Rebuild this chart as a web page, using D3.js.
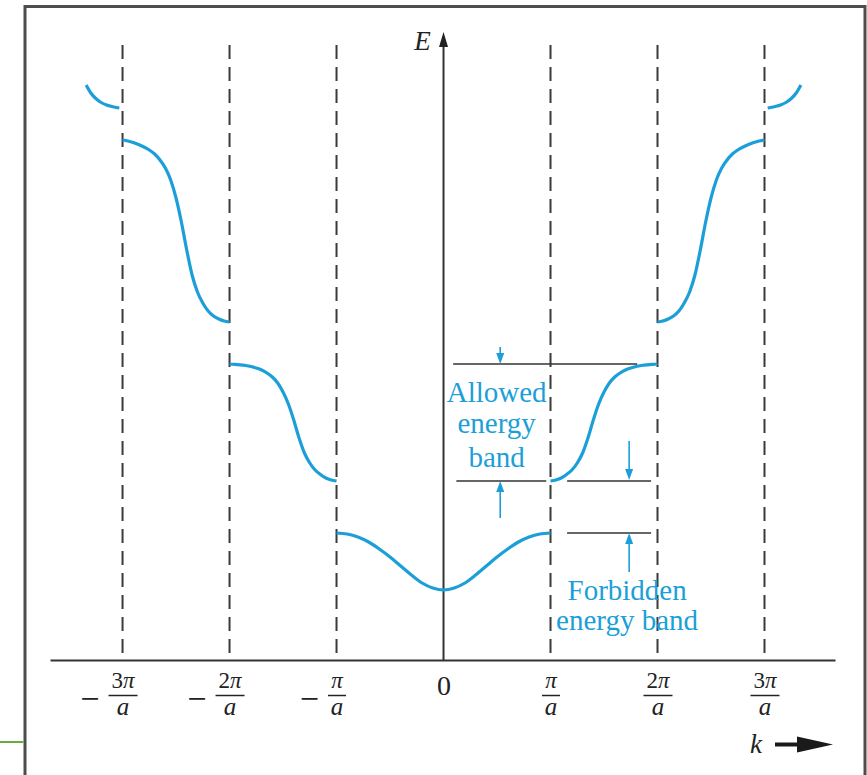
<!DOCTYPE html>
<html>
<head>
<meta charset="utf-8">
<script src="https://cdn.jsdelivr.net/npm/d3@7"></script>
<style>
  html, body { margin: 0; padding: 0; background: #fff; }
  svg { display: block; }
</style>
</head>
<body>
<svg id="chart" width="867" height="775"></svg>
<script>
// ---------- DATA (k in units of pi/a, E in arbitrary units) ----------
const kTicks = [-3, -2, -1, 0, 1, 2, 3];
const tickSigns = ["\u2212", "\u2212", "\u2212", "", "", "", ""];
const tickNumerators = ["3\u03c0", "2\u03c0", "\u03c0", "0", "\u03c0", "2\u03c0", "3\u03c0"];
const tickDenominators = ["a", "a", "a", "", "a", "a", "a"];
const zoneBoundaries = [-3, -2, -1, 1, 2, 3];

// band 1 : -pi/a .. pi/a
const band1 = [[-1, 127], [-0.9, 126], [-0.8, 123], [-0.7, 118], [-0.6, 111], [-0.5, 103],
  [-0.4, 94], [-0.3, 85], [-0.2, 77], [-0.1, 72], [0, 70], [0.1, 72], [0.2, 77], [0.3, 85],
  [0.4, 94], [0.5, 103], [0.6, 111], [0.7, 118], [0.8, 123], [0.9, 126], [1, 127]];
// band 2 : pi/a .. 2pi/a
const band2Right = [[1.00, 179], [1.05, 180], [1.10, 182], [1.15, 185.5], [1.20, 190], [1.25, 197],
  [1.30, 207], [1.35, 222], [1.40, 240], [1.45, 256], [1.50, 268], [1.55, 277], [1.60, 283],
  [1.65, 287], [1.70, 290], [1.75, 292], [1.80, 293.5], [1.85, 294.5], [1.90, 295.2], [1.95, 295.7], [2.00, 296]];
const band2Left = [[-2.00, 296], [-1.95, 295.7], [-1.90, 295.2], [-1.85, 294.5], [-1.80, 293.5],
  [-1.75, 292], [-1.70, 290], [-1.65, 287], [-1.60, 283], [-1.55, 277], [-1.50, 268], [-1.45, 256],
  [-1.40, 240], [-1.35, 222], [-1.30, 207], [-1.25, 197], [-1.20, 190], [-1.15, 185.5], [-1.10, 182],
  [-1.05, 180], [-1.00, 179]];
// band 3 : 2pi/a .. 3pi/a
const band3Right = [[2.00, 338], [2.05, 339], [2.10, 341], [2.15, 344], [2.20, 349], [2.25, 357],
  [2.30, 368], [2.35, 385], [2.40, 410], [2.45, 438], [2.50, 462], [2.55, 480], [2.60, 492],
  [2.65, 500], [2.70, 506], [2.75, 510], [2.80, 513], [2.85, 515.5], [2.90, 517.5], [2.95, 519], [3.00, 520]];
const band3Left = [[-3.00, 520], [-2.95, 519], [-2.90, 517.5], [-2.85, 515.5], [-2.80, 513],
  [-2.75, 510], [-2.70, 506], [-2.65, 500], [-2.60, 492], [-2.55, 480], [-2.50, 462], [-2.45, 438],
  [-2.40, 410], [-2.35, 385], [-2.30, 368], [-2.25, 357], [-2.20, 349], [-2.15, 344], [-2.10, 341],
  [-2.05, 339], [-2.00, 338]];
// band 4 : beyond 3pi/a (partial)
const band4Right = [[3.03, 552], [3.1, 553.5], [3.15, 555], [3.2, 557.5], [3.25, 561.5], [3.3, 567.5], [3.34, 575]];
const band4Left = [[-3.34, 575], [-3.3, 567.5], [-3.25, 561.5], [-3.2, 557.5], [-3.15, 555], [-3.1, 553.5], [-3.03, 552]];

const bands = [band4Left, band3Left, band2Left, band1, band2Right, band3Right, band4Right];

// annotation data (k, E)
const refLines = [
  { k0: 0.09, k1: 1.81, E: 296 },
  { k0: 0.12, k1: 0.96, E: 179 },
  { k0: 1.155, k1: 1.94, E: 179 },
  { k0: 1.155, k1: 1.94, E: 127 }
];
const bandArrows = [
  { k: 0.53, from: 313, to: 296 },
  { k: 0.53, from: 142, to: 179 },
  { k: 1.735, from: 219, to: 180 },
  { k: 1.735, from: 88, to: 127 }
];
const allowedLabel = { k: 0.497, lines: ["Allowed", "energy", "band"], E: [258.5, 227, 193.5] };
const forbiddenLabel = { k: 1.716, lines: ["Forbidden", "energy band"], E: [60, 30] };

// ---------- STYLES ----------
const BLUE = "#1c9fd8";
const INK = "#333333";
const SERIF = "'Liberation Serif', 'Times New Roman', 'DejaVu Serif', serif";

const svg = d3.select("#chart");

// frame
svg.append("rect")
  .attr("x", 25).attr("y", 6.5).attr("width", 840).attr("height", 820)
  .attr("fill", "none").attr("stroke", "#4d4d4d").attr("stroke-width", 3);
svg.append("line").attr("x1", 0).attr("x2", 23.5).attr("y1", 742).attr("y2", 742)
  .attr("stroke", "#6aab3c").attr("stroke-width", 2);

// scales
const x = d3.scaleLinear().domain([-3.678, 3.659]).range([50, 835]);
const y = d3.scaleLinear().domain([0, 628]).range([660, 32]);

// dashed zone boundaries
svg.append("g").selectAll("line").data(zoneBoundaries).join("line")
  .attr("x1", d => x(d)).attr("x2", d => x(d))
  .attr("y1", y(615)).attr("y2", y(0))
  .attr("stroke", "#3a3a3a").attr("stroke-width", 2)
  .attr("stroke-dasharray", "14,8");

// x axis
const xAxis = d3.axisBottom(x).tickValues(kTicks).tickSize(0).tickSizeOuter(0).tickFormat("");
const gx = svg.append("g").attr("transform", `translate(0,${y(0)})`).call(xAxis);
gx.select(".domain").attr("stroke", INK).attr("stroke-width", 2);

gx.selectAll(".tick").each(function (d, i) {
  const g = d3.select(this);
  const num = tickNumerators[i], den = tickDenominators[i], sign = tickSigns[i];
  if (!den) {
    g.append("text").attr("x", 0).attr("y", 35).attr("text-anchor", "middle")
      .attr("font-family", SERIF).attr("font-size", 28).attr("fill", "#222").text(num);
    return;
  }
  const half = num.length > 1 ? 14.5 : 9;
  const t = g.append("text").attr("x", 0).attr("y", 28).attr("text-anchor", "middle")
    .attr("font-family", SERIF).attr("font-size", 23).attr("fill", "#222");
  const digits = num.replace("\u03c0", "");
  if (digits) t.append("tspan").text(digits);
  t.append("tspan").attr("font-style", "italic").text("\u03c0");
  g.append("line").attr("x1", -half).attr("x2", half).attr("y1", 35.5).attr("y2", 35.5)
    .attr("stroke", "#222").attr("stroke-width", 1.5);
  g.append("text").attr("x", 0).attr("y", 55).attr("text-anchor", "middle")
    .attr("font-family", SERIF).attr("font-style", "italic").attr("font-size", 25)
    .attr("fill", "#222").text(den);
  if (sign) {
    g.append("text").attr("x", -half - 9).attr("y", 50).attr("text-anchor", "end")
      .attr("font-family", SERIF).attr("font-size", 34).attr("fill", "#222").text(sign);
  }
});

// E axis with arrow
svg.append("line").attr("x1", x(0)).attr("x2", x(0)).attr("y1", y(0)).attr("y2", y(615))
  .attr("stroke", INK).attr("stroke-width", 2);
svg.append("path")
  .attr("d", `M${x(0)},${y(628)} L${x(0) - 4.5},${y(613)} L${x(0) + 4.5},${y(613)} Z`)
  .attr("fill", "#222");
svg.append("text").attr("x", x(0) - 21).attr("y", y(610)).attr("text-anchor", "middle")
  .attr("font-family", SERIF).attr("font-style", "italic").attr("font-size", 27)
  .attr("fill", "#222").text("E");

// k label with arrow
svg.append("text").attr("x", 756).attr("y", 753).attr("text-anchor", "middle")
  .attr("font-family", SERIF).attr("font-style", "italic").attr("font-size", 27)
  .attr("fill", "#222").text("k");
svg.append("line").attr("x1", 775).attr("x2", 800).attr("y1", 744.5).attr("y2", 744.5)
  .attr("stroke", "#1a1a1a").attr("stroke-width", 4);
svg.append("path").attr("d", "M797,736.5 L833,744.5 L797,752.5 Z").attr("fill", "#1a1a1a");

// bands
const line = d3.line().x(d => x(d[0])).y(d => y(d[1])).curve(d3.curveMonotoneX);
svg.append("g").selectAll("path").data(bands).join("path")
  .attr("d", line).attr("fill", "none").attr("stroke", BLUE)
  .attr("stroke-width", 3.2).attr("stroke-linecap", "butt");

// reference lines
svg.append("g").selectAll("line").data(refLines).join("line")
  .attr("x1", d => x(d.k0)).attr("x2", d => x(d.k1))
  .attr("y1", d => y(d.E)).attr("y2", d => y(d.E))
  .attr("stroke", INK).attr("stroke-width", 1.6);

// blue arrows
const ga = svg.append("g");
bandArrows.forEach(a => {
  const xa = x(a.k), y0 = y(a.from), y1 = y(a.to);
  const dir = y1 > y0 ? 1 : -1;
  const headLen = 11, headW = 4;
  ga.append("line").attr("x1", xa).attr("x2", xa).attr("y1", y0).attr("y2", y1 - dir * headLen)
    .attr("stroke", BLUE).attr("stroke-width", 1.6);
  ga.append("path")
    .attr("d", `M${xa},${y1} L${xa - headW},${y1 - dir * headLen} L${xa + headW},${y1 - dir * headLen} Z`)
    .attr("fill", BLUE);
});

// labels
[allowedLabel, forbiddenLabel].forEach(lab => {
  lab.lines.forEach((s, i) => {
    svg.append("text").attr("x", x(lab.k)).attr("y", y(lab.E[i]))
      .attr("text-anchor", "middle").attr("font-family", SERIF).attr("font-size", 29)
      .attr("fill", BLUE).text(s);
  });
});
</script>
</body>
</html>
